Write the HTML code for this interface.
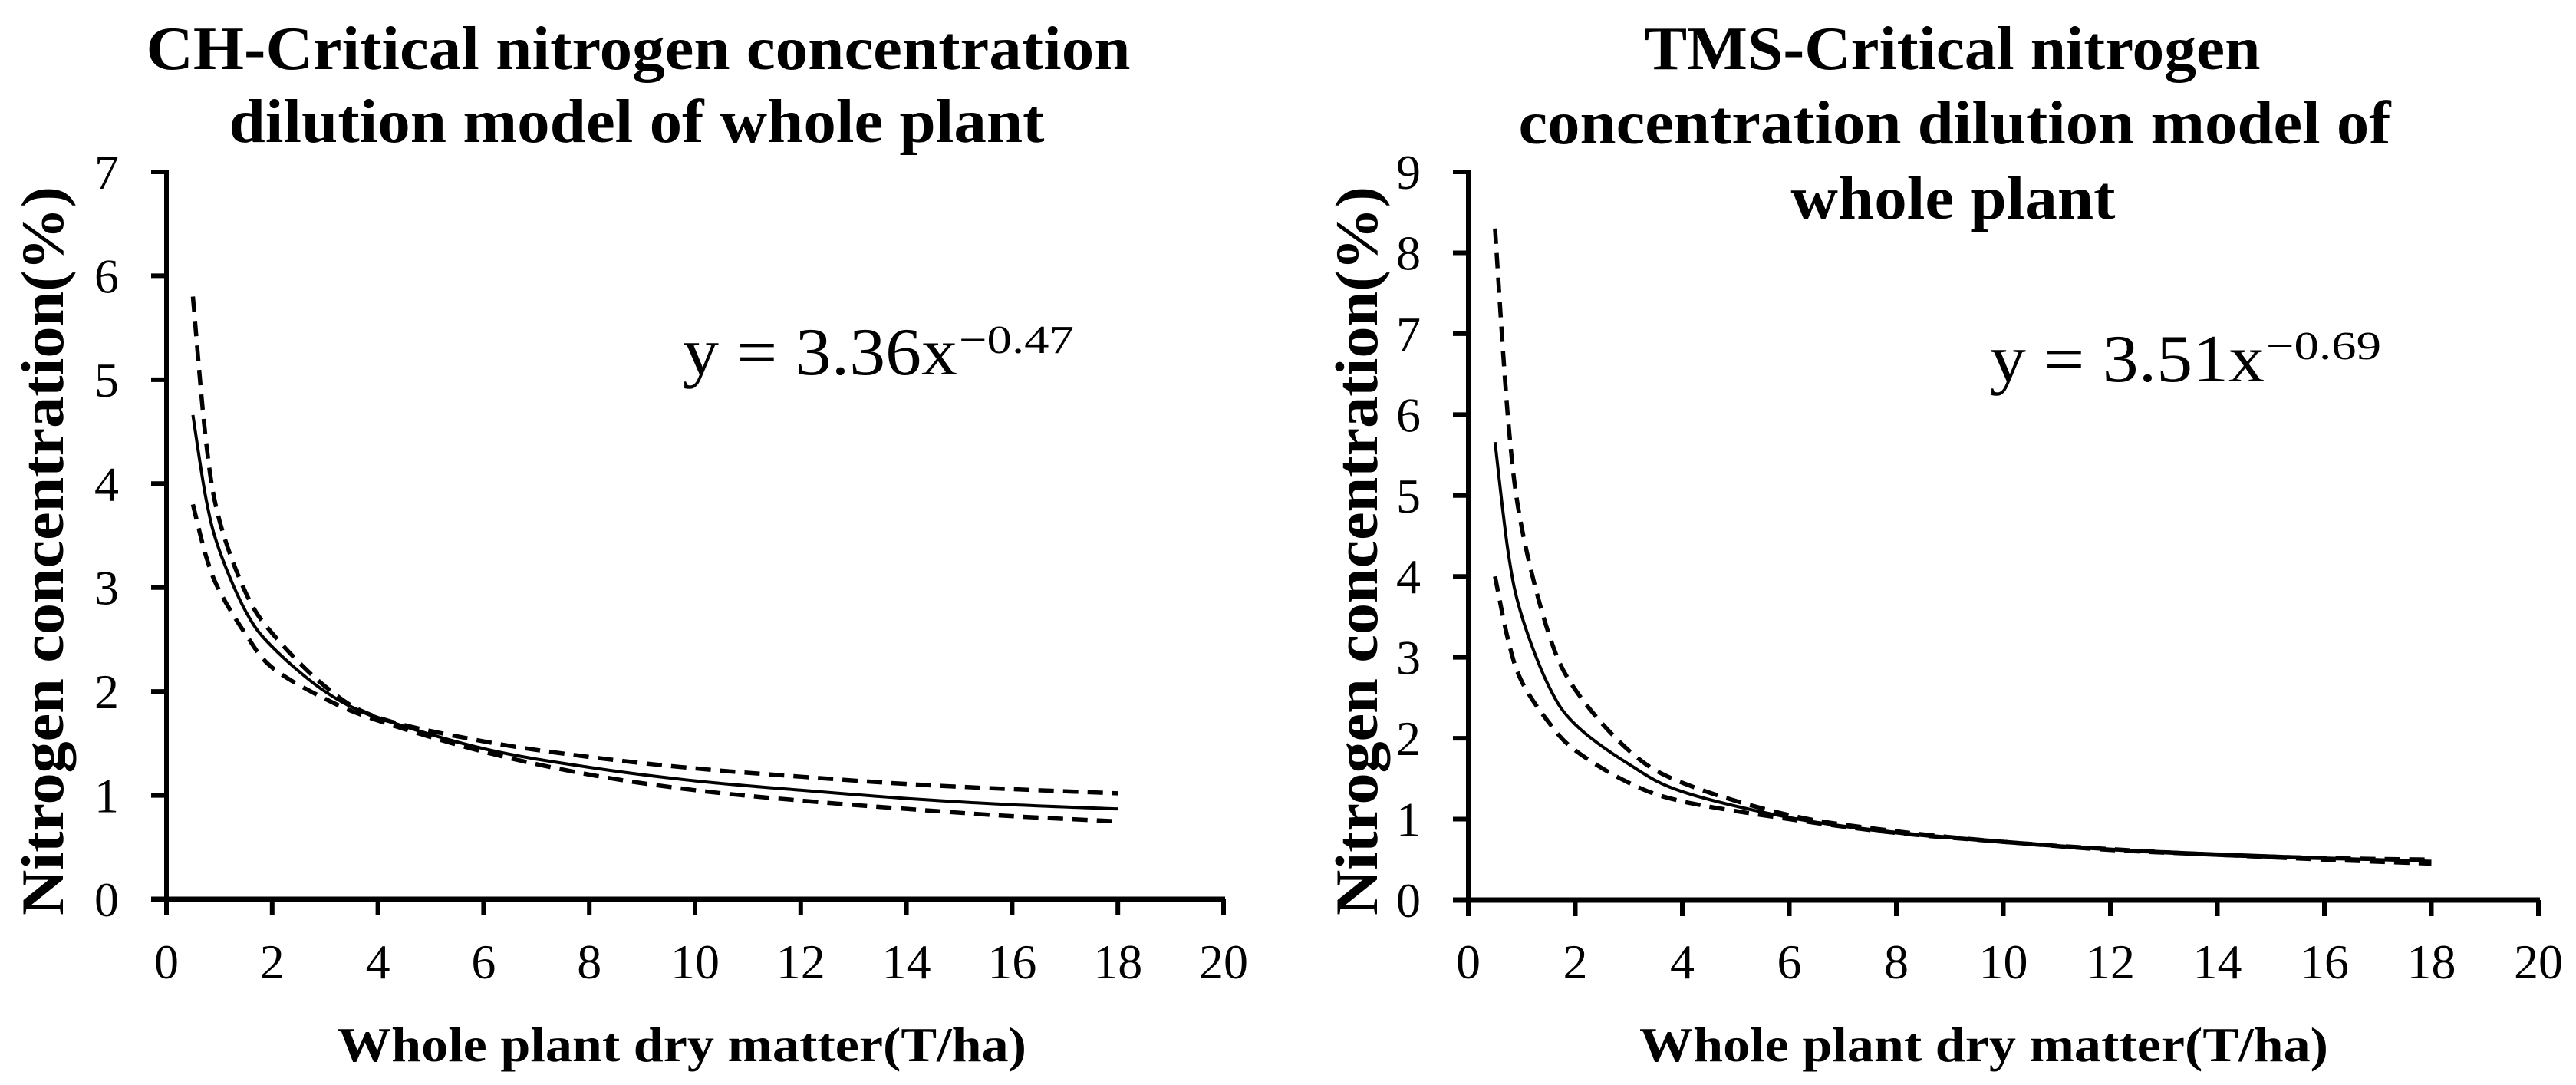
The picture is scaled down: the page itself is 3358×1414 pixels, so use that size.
<!DOCTYPE html>
<html><head><meta charset="utf-8"><style>
html,body{margin:0;padding:0;background:#fff;}
svg{display:block;}
text{font-family:"Liberation Serif",serif;fill:#000;}
</style></head><body>
<svg id="fig" width="3358" height="1414" viewBox="0 0 3358 1414" xmlns="http://www.w3.org/2000/svg">
<g>
<text x="832" y="90" font-size="80" font-weight="bold" text-anchor="middle" textLength="1283" lengthAdjust="spacingAndGlyphs">CH-Critical nitrogen concentration</text>
<text x="830" y="185" font-size="80" font-weight="bold" text-anchor="middle" textLength="1063" lengthAdjust="spacingAndGlyphs">dilution model of whole plant</text>
<text transform="translate(82,718) rotate(-90)" font-size="78" font-weight="bold" text-anchor="middle" textLength="950" lengthAdjust="spacingAndGlyphs">Nitrogen concentration(%)</text>
<text x="889" y="1383" font-size="64" font-weight="bold" text-anchor="middle" textLength="898" lengthAdjust="spacingAndGlyphs">Whole plant dry matter(T/ha)</text>
<g>
<text x="890" y="488" font-size="88" textLength="358" lengthAdjust="spacingAndGlyphs">y = 3.36x</text>
<text x="1250" y="460" font-size="52" textLength="150" lengthAdjust="spacingAndGlyphs">−0.47</text>
</g>
<g id="ch-plot"></g>
</g>
<g>
<text x="2545" y="90" font-size="80" font-weight="bold" text-anchor="middle" textLength="803" lengthAdjust="spacingAndGlyphs">TMS-Critical nitrogen</text>
<text x="2548" y="187" font-size="80" font-weight="bold" text-anchor="middle" textLength="1137" lengthAdjust="spacingAndGlyphs">concentration dilution model of</text>
<text x="2546" y="285" font-size="80" font-weight="bold" text-anchor="middle" textLength="423" lengthAdjust="spacingAndGlyphs">whole plant</text>
<text transform="translate(1795,718) rotate(-90)" font-size="78" font-weight="bold" text-anchor="middle" textLength="950" lengthAdjust="spacingAndGlyphs">Nitrogen concentration(%)</text>
<text x="2586" y="1383" font-size="64" font-weight="bold" text-anchor="middle" textLength="898" lengthAdjust="spacingAndGlyphs">Whole plant dry matter(T/ha)</text>
<g>
<text x="2594" y="497" font-size="88" textLength="358" lengthAdjust="spacingAndGlyphs">y = 3.51x</text>
<text x="2954" y="468" font-size="52" textLength="150" lengthAdjust="spacingAndGlyphs">−0.69</text>
</g>
<g id="tms-plot"></g>
</g>
</svg>
<script>
const xTicks = [0,2,4,6,8,10,12,14,16,18,20];
const chYTicks = [0,1,2,3,4,5,6,7];
const tmsYTicks = [0,1,2,3,4,5,6,7,8,9];
const dmX = [0.5,0.75,1,1.5,2,3,4,6,8,10,12,14,16,18];
const chSolid = [4.66,3.85,3.36,2.77,2.43,2.0,1.75,1.45,1.27,1.14,1.05,0.97,0.91,0.87];
const chUpper = [5.8,4.4,3.65,2.95,2.56,2.05,1.75,1.52,1.37,1.26,1.18,1.11,1.06,1.02];
const chLower = [3.8,3.3,2.97,2.55,2.23,1.93,1.72,1.42,1.2,1.05,0.95,0.87,0.8,0.75];
const tmsSolid = [5.66,4.28,3.51,2.65,2.17,1.68,1.34,1.02,0.83,0.72,0.63,0.57,0.52,0.48];
const tmsUpper = [8.3,5.9,4.6,3.3,2.6,1.85,1.45,1.05,0.85,0.72,0.63,0.56,0.52,0.5];
const tmsLower = [4.0,3.2,2.7,2.2,1.85,1.45,1.22,1.0,0.83,0.72,0.62,0.56,0.5,0.45];

const NS="http://www.w3.org/2000/svg";
function mk(tag,attrs,parent){const e=document.createElementNS(NS,tag);for(const k in attrs)e.setAttribute(k,attrs[k]);parent.appendChild(e);return e;}
function smooth(pts){let d="M"+pts[0][0]+","+pts[0][1];for(let i=0;i<pts.length-1;i++){const p0=pts[i-1]||pts[i],p1=pts[i],p2=pts[i+1],p3=pts[i+2]||p2;const c1=[p1[0]+(p2[0]-p0[0])/6,p1[1]+(p2[1]-p0[1])/6];const c2=[p2[0]-(p3[0]-p1[0])/6,p2[1]-(p3[1]-p1[1])/6];d+=" C"+c1.join(",")+" "+c2.join(",")+" "+p2.join(",");}return d;}
function drawChart(g,prefix,x0,x20,y0,yTop,yTicks,series){
  const yMax=yTicks[yTicks.length-1];
  const sx=v=>x0+(x20-x0)*v/20;
  const sy=v=>y0-(y0-yTop)*v/yMax;
  const axes=mk('g',{},g);
  
  
  const ya=mk('line',{x1:sx(0),y1:sy(yMax)-2,x2:sx(0),y2:y0+2,stroke:'#000','stroke-width':6},axes);
  
  
  const xa=mk('line',{x1:sx(0)-20,y1:y0,x2:sx(20)+2,y2:y0,stroke:'#000','stroke-width':7},axes);
  
  
  yTicks.forEach(v=>{
    mk('line',{x1:sx(0)-20,y1:sy(v),x2:sx(0),y2:sy(v),stroke:'#000','stroke-width':6},axes);
    const t=mk('text',{x:sx(0)-78,y:sy(v)+22,'font-size':64,'text-anchor':'middle'},axes);
    t.textContent=v;
    
    
  });
  xTicks.forEach(v=>{
    mk('line',{x1:sx(v),y1:y0,x2:sx(v),y2:y0+21,stroke:'#000','stroke-width':6},axes);
    const t=mk('text',{x:sx(v),y:1275,'font-size':64,'text-anchor':'middle'},axes);
    t.textContent=v;
    
    
  });
  series.forEach(s=>{
    const pts=dmX.map((x,i)=>[sx(x),sy(s.vals[i])]);
    const p=mk('path',{d:smooth(pts),fill:'none',stroke:'#000','stroke-width':s.dash?5.5:4},g);
    if(s.dash)p.setAttribute('stroke-dasharray','20 12');
    
    
  });
}
drawChart(document.getElementById('ch-plot'),'ch',217,1595,1172,224,chYTicks,[
  {name:'critical-curve',vals:chSolid,dash:false},
  {name:'upper-bound-curve',vals:chUpper,dash:true},
  {name:'lower-bound-curve',vals:chLower,dash:true}]);
drawChart(document.getElementById('tms-plot'),'tms',1914,3309,1173,224,tmsYTicks,[
  {name:'critical-curve',vals:tmsSolid,dash:false},
  {name:'upper-bound-curve',vals:tmsUpper,dash:true},
  {name:'lower-bound-curve',vals:tmsLower,dash:true}]);
</script>
</body></html>
